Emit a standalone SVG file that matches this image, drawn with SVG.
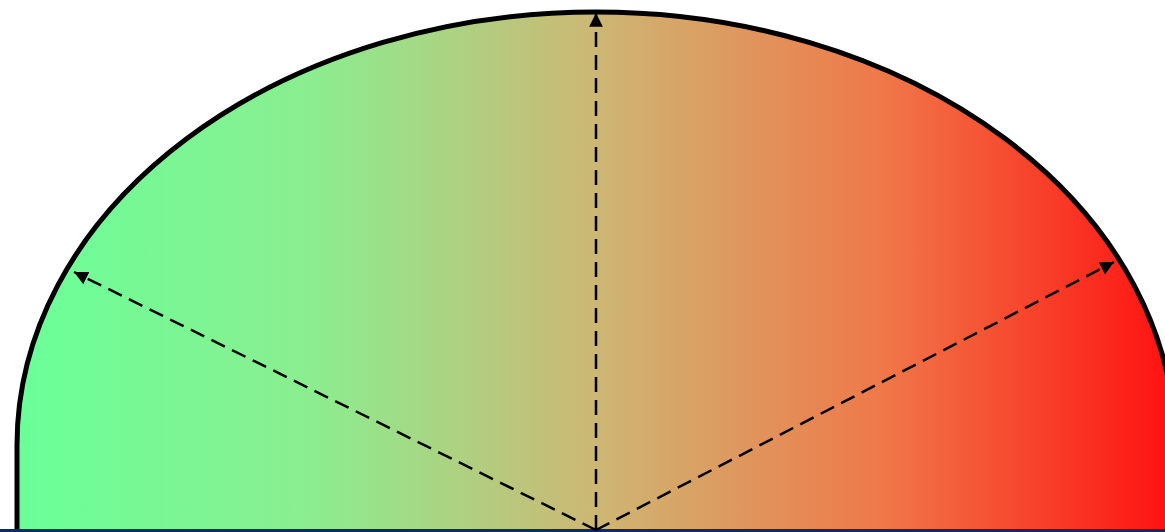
<svg xmlns="http://www.w3.org/2000/svg" width="1165" height="532" viewBox="0 0 1165 532">
<defs>
<linearGradient id="g" x1="17" y1="0" x2="1175" y2="0" gradientUnits="userSpaceOnUse">
<stop offset="0" stop-color="#69ff98"/>
<stop offset="0.25" stop-color="#8aee90"/>
<stop offset="0.5" stop-color="#cdb774"/>
<stop offset="0.75" stop-color="#f07748"/>
<stop offset="1" stop-color="#ff1010"/>
</linearGradient>
<marker id="ah" viewBox="0 0 10 10" refX="10" refY="5" markerWidth="5.5" markerHeight="5.5" markerUnits="strokeWidth" orient="auto">
<path d="M0,0 L10,5 L0,10 z" fill="#000"/>
</marker>
<style>
.arr{fill:none;stroke:#000;stroke-width:2.5;stroke-dasharray:15 8;marker-end:url(#ah)}
</style>
</defs>
<g id="dome">
<path d="M17,532 L17,445 A579,433 0 0 1 1175,445 L1175,532" fill="url(#g)" stroke="#000" stroke-width="5"/>
<rect x="0" y="529" width="1165" height="3" fill="#0d2a6b"/>
</g>
<g id="connectors">
<line class="arr" x1="596" y1="530" x2="596" y2="13"/>
<line class="arr" x1="596" y1="530" x2="74" y2="272"/>
<line class="arr" x1="596" y1="530" x2="1114" y2="262"/>
</g>
</svg>
